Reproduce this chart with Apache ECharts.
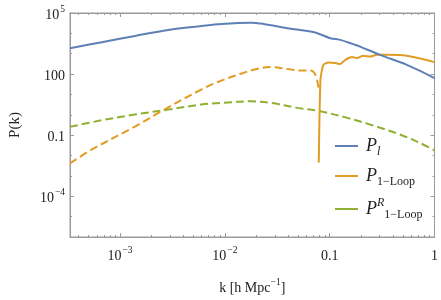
<!DOCTYPE html>
<html><head><meta charset="utf-8">
<script src="https://cdn.jsdelivr.net/npm/echarts@6/dist/echarts.min.js"></script>
<style>html,body{margin:0;padding:0;background:#fff}#c{width:441px;height:300px}</style>
</head><body><div id="c"></div>
<script>
// ---- data ----
const kLinear = [3.33e-4, 6.7e-4, 1.39e-3, 2.88e-3, 6.0e-3, 9.2e-3, 0.0177, 0.0235, 0.0397, 0.0656, 0.0764, 0.1014, 0.126, 0.1675, 0.195, 0.302, 0.545, 1];
const pLinear = [1880, 3690, 7500, 14750, 23100, 29000, 33600, 29000, 17900, 12200, 10200, 5800, 4790, 2950, 2250, 883, 286, 64];

const kLoopNeg = [3.33e-4, 5.4e-4, 1.39e-3, 2.65e-3, 5.94e-3, 9.2e-3, 0.01422, 0.0197, 0.0274, 0.0397, 0.0527, 0.0656, 0.0731, 0.0782];
const pLoopNeg = [0.00413, 0.02, 0.266, 1.81, 17.2, 47.3, 104, 173, 221, 177, 151, 151, 93, 21.5];

const kLoopPos = [0.0787, 0.0817, 0.0871, 0.097, 0.1132, 0.126, 0.141, 0.164, 0.183, 0.2085, 0.2427, 0.283, 0.3516, 0.5445, 1];
const pLoopPos = [0.0046, 53, 286, 371, 347, 310, 504, 682, 610, 789, 730, 883, 883, 789, 388];

const kRenorm = [3.33e-4, 6.7e-4, 1.377e-3, 2.88e-3, 5.94e-3, 9.2e-3, 0.0177, 0.0274, 0.0494, 0.0817, 0.1469, 0.2594, 0.4677, 0.7228, 1];
const pRenorm = [0.258, 0.54, 1.03, 1.81, 3.17, 3.84, 4.6, 3.84, 2.19, 1.49, 0.71, 0.298, 0.108, 0.042, 0.0179];

const xMajorTicks = [1e-3, 1e-2, 0.1, 1];
const xMinorTicks = [4e-4,5e-4,6e-4,7e-4,8e-4,9e-4, 2e-3,3e-3,4e-3,5e-3,6e-3,7e-3,8e-3,9e-3, 0.02,0.03,0.04,0.05,0.06,0.07,0.08,0.09, 0.2,0.3,0.4,0.5,0.6,0.7,0.8,0.9];
const yMajorTicks = [1e-4, 0.1, 100, 1e5];
const yMinorTicks = [1e-6, 1e-5, 1e-3, 1e-2, 1, 10, 1000, 1e4];
const xLabelText = {'-3': '{b|10}{s|−3}', '-2': '{b|10}{s|−2}', '-1': '{b|0.1}', '0': '{b|1}'};
const yLabelText = {'-4': '{b|10}{s|−4}', '-1': '{b|0.1}', '2': '{b|100}', '5': '{b|10}{s|5}'};

// ---- chart ----
const pair = (ks, ps) => ks.map((k, i) => [k, ps[i]]);
const FRAME = '#9a9a9a';
const FONT = 'Liberation Serif';
const richLbl = {
  b: {fontFamily: FONT, fontSize: 14, color: '#222', lineHeight: 18, verticalAlign: 'bottom'},
  s: {fontFamily: FONT, fontSize: 9.5, color: '#222', lineHeight: 18, verticalAlign: 'top', padding: [0,0,0,1]}
};
const XMIN = 1/3000, XMAX = 1, YMIN = 1e-6, YMAX = 1e5;
const lg = v => String(Math.round(Math.log10(v)));

function xAx(pos, ticks, len, withLabel, withLine) {
  return {
    type: 'log', logBase: 10, min: XMIN, max: XMAX, position: pos, gridIndex: 0,
    axisLine: {show: withLine, lineStyle: {color: FRAME, width: 1}},
    axisTick: {show: true, inside: true, length: len, customValues: ticks, lineStyle: {color: FRAME, width: 1}},
    axisLabel: withLabel ? {show: true, customValues: xMajorTicks, margin: 8,
      formatter: v => xLabelText[lg(v)] || '', rich: richLbl} : {show: false},
    splitLine: {show: false}, minorTick: {show: false},
    name: withLabel ? '{t|k [h Mpc}{s|−1}{t|]}' : '', nameLocation: 'middle', nameGap: 40,
    nameTextStyle: {rich: {
      t: {fontFamily: FONT, fontSize: 14, color: '#222', lineHeight: 18, verticalAlign: 'bottom'},
      s: {fontFamily: FONT, fontSize: 9.5, color: '#222', lineHeight: 18, verticalAlign: 'top'}}}
  };
}
function yAx(pos, ticks, len, withLabel, withLine) {
  return {
    type: 'log', logBase: 10, min: YMIN, max: YMAX, position: pos, gridIndex: 0,
    axisLine: {show: withLine, lineStyle: {color: FRAME, width: 1}},
    axisTick: {show: true, inside: true, length: len, customValues: ticks, lineStyle: {color: FRAME, width: 1}},
    axisLabel: withLabel ? {show: true, customValues: yMajorTicks, margin: 5,
      formatter: v => yLabelText[lg(v)] || '', rich: richLbl} : {show: false},
    splitLine: {show: false}, minorTick: {show: false},
    name: withLabel ? 'P(k)' : '', nameLocation: 'middle', nameGap: 47, nameRotate: 90,
    nameTextStyle: {fontFamily: FONT, fontSize: 15, color: '#222'}
  };
}

const legendRich = {
  P: {fontFamily: FONT, fontStyle: 'italic', fontSize: 18, color: '#222', lineHeight: 24, verticalAlign: 'middle'},
  si: {fontFamily: FONT, fontStyle: 'italic', fontSize: 12, color: '#222', lineHeight: 24, verticalAlign: 'bottom'},
  su: {fontFamily: FONT, fontSize: 12, color: '#222', lineHeight: 24, verticalAlign: 'bottom'},
  sp: {fontFamily: FONT, fontStyle: 'italic', fontSize: 12, color: '#222', lineHeight: 24, verticalAlign: 'top'}
};
const legendNames = {
  'Pl': '{P|P}{si|l}',
  'P1': '{P|P}{su|1−Loop}',
  'PR': '{P|P}{sp|R}{su|1−Loop}'
};

const chart = echarts.init(document.getElementById('c'), null, {renderer: 'canvas'});
chart.setOption({
  animation: false,
  backgroundColor: '#fff',
  grid: {left: 68, right: 6, top: 13, bottom: 62, containLabel: false,
         show: true, borderColor: FRAME, borderWidth: 1, backgroundColor: 'transparent'},
  legend: {
    orient: 'vertical', left: 330, top: 132, itemGap: 9,
    icon: 'rect', itemWidth: 23, itemHeight: 2,
    data: [
      {name: 'Pl', itemStyle: {color: '#5E81B5'}},
      {name: 'P1', itemStyle: {color: '#E19C24'}},
      {name: 'PR', itemStyle: {color: '#8FB032'}}
    ],
    formatter: n => legendNames[n],
    textStyle: {rich: legendRich, padding: [0,0,0,3]}
  },
  xAxis: [
    xAx('bottom', xMajorTicks, 4, true, true),
    xAx('bottom', xMinorTicks, 2, false, false),
    xAx('top', xMajorTicks, 4, false, true),
    xAx('top', xMinorTicks, 2, false, false)
  ],
  yAxis: [
    yAx('left', yMajorTicks, 4, true, true),
    yAx('left', yMinorTicks, 2, false, false),
    yAx('right', yMajorTicks, 4, false, true),
    yAx('right', yMinorTicks, 2, false, false)
  ],
  series: [
    {name: 'Pl', type: 'line', data: pair(kLinear, pLinear), showSymbol: false, smooth: 0.35,
     lineStyle: {color: '#5E81B5', width: 2}, itemStyle: {color: '#5E81B5'}, z: 3},
    {name: 'P1', type: 'line', data: pair(kLoopNeg, pLoopNeg), showSymbol: false, smooth: 0.35,
     lineStyle: {color: '#E19C24', width: 2, type: [8, 4]}, itemStyle: {color: '#E19C24'}, z: 2},
    {name: 'P1', type: 'line', data: pair(kLoopPos, pLoopPos), showSymbol: false, smooth: 0.2,
     lineStyle: {color: '#E19C24', width: 2}, itemStyle: {color: '#E19C24'}, z: 2},
    {name: 'PR', type: 'line', data: pair(kRenorm, pRenorm), showSymbol: false, smooth: 0.35,
     lineStyle: {color: '#8FB032', width: 2, type: [8, 4]}, itemStyle: {color: '#8FB032'}, z: 1}
  ]
});
</script></body></html>
